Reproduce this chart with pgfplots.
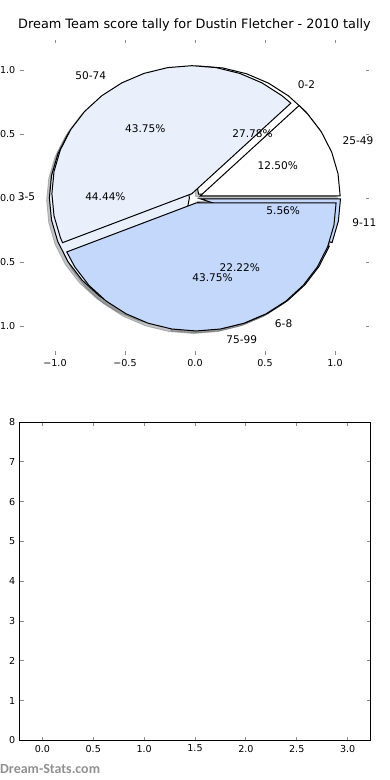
\documentclass[border=0pt]{standalone}
\usepackage{pgfplots}
\pgfplotsset{compat=1.18}
\usepackage{pgfplotstable}
\usepackage{fontspec}
\setmainfont{DejaVu Sans}
\newfontfamily\wmfont{Carlito}
\definecolor{cwhite}{RGB}{255,255,255}
\definecolor{clight}{RGB}{233,240,252}
\definecolor{cblue}{RGB}{196,216,252}
\definecolor{shw}{RGB}{80,82,86}
\definecolor{tickgray}{RGB}{140,140,140}
\definecolor{wmgray}{RGB}{145,145,145}

% Pie 1 (score 0-2: 5, 3-5: 8, 6-8: 4, 9-11: 1 -> 27.78, 44.44, 22.22, 5.56 %), explode 0.04
\pgfplotstableread{
x y
0.0257 0.0306
1.0257 0.0306
1.0105 0.2042
0.9654 0.3726
0.8917 0.5306
0.7917 0.6734
0.6685 0.7966
0.5257 0.8966
0.3677 0.9703
0.1993 1.0154
0.0257 1.0306
-0.1479 1.0154
}\pOneA
\pgfplotstableread{
x y
-0.0400 0.0000
-0.2136 0.9848
-0.3820 0.9397
-0.5400 0.8660
-0.6828 0.7660
-0.8060 0.6428
-0.9060 0.5000
-0.9797 0.3420
-1.0248 0.1736
-1.0400 0.0000
-1.0248 -0.1736
-0.9797 -0.3420
-0.9060 -0.5000
-0.8060 -0.6428
-0.6828 -0.7660
-0.5400 -0.8660
-0.3820 -0.9397
-0.2136 -0.9848
}\pOneB
\pgfplotstableread{
x y
0.0200 -0.0346
-0.1536 -1.0194
0.0200 -1.0346
0.1936 -1.0194
0.3620 -0.9743
0.5200 -0.9006
0.6628 -0.8006
0.7860 -0.6774
0.8860 -0.5346
0.9597 -0.3766
}\pOneC
\pgfplotstableread{
x y
0.0394 -0.0069
0.9791 -0.3489
1.0242 -0.1805
1.0394 -0.0069
}\pOneD
% Pie 2 (25-49: 2, 50-74: 7, 75-99: 7 -> 12.50, 43.75, 43.75 %), explode 0.04
\pgfplotstableread{
x y
0.0370 0.0153
1.0370 0.0153
1.0218 0.1889
0.9767 0.3573
0.9030 0.5153
0.8030 0.6581
0.7441 0.7224
}\pTwoA
\pgfplotstableread{
x y
-0.0222 0.0333
0.6849 0.7404
0.6206 0.7993
0.4778 0.8993
0.3198 0.9730
0.1514 1.0181
-0.0222 1.0333
-0.1958 1.0181
-0.3642 0.9730
-0.5222 0.8993
-0.6650 0.7993
-0.7882 0.6761
-0.8882 0.5333
-0.9619 0.3753
-1.0070 0.2069
-1.0222 0.0333
-1.0070 -0.1403
-0.9619 -0.3087
-0.9461 -0.3494
}\pTwoB
\pgfplotstableread{
x y
0.0078 -0.0392
-0.9161 -0.4219
-0.8582 -0.5392
-0.7582 -0.6820
-0.6350 -0.8052
-0.4922 -0.9052
-0.3342 -0.9789
-0.1658 -1.0240
0.0078 -1.0392
0.1814 -1.0240
0.3498 -0.9789
0.5078 -0.9052
0.6506 -0.8052
0.7738 -0.6820
0.8738 -0.5392
0.9475 -0.3812
0.9926 -0.2128
1.0078 -0.0392
}\pTwoC

\tikzset{
  wedge/.style={draw=black, line width=1bp, mark=none},
  shadow/.style={fill=shw, draw=shw, fill opacity=0.35, draw opacity=0.35, line width=0.8bp, mark=none},
  lbl/.style={font=\fontsize{10.6}{12}\selectfont, inner sep=0pt},
}
\pgfplotsset{
  common/.style={
    scale only axis,
    anchor=south west,
    tick style={draw=tickgray, line width=0.8bp},
    major tick length=3.5bp,
    tick label style={font=\fontsize{9.6}{11}\selectfont},
    xticklabel style={anchor=north, inner sep=0pt, yshift=-4.3bp},
    yticklabel style={anchor=east, inner sep=0pt, xshift=-4.5bp},
  },
}

\begin{document}
\begin{tikzpicture}
\useasboundingbox (0,0) rectangle (390bp,780bp);

\begin{axis}[
  common,
  at={(20bp,425bp)},
  width=349bp, height=315bp,
  xmin=-1.25, xmax=1.243, ymin=-1.227, ymax=1.234,
  clip=false,
  axis line style={draw=none},
  xtick={-1,-0.5,0,0.5,1}, xticklabels={−1.0,−0.5,0.0,0.5,1.0},
  ytick={-1,-0.5,0,0.5,1}, yticklabels={−1.0,−0.5,0.0,0.5,1.0},
  title={Dream Team score tally for Dustin Fletcher - 2010 tally},
  title style={at={(0.5,1)}, anchor=base, yshift=5.3bp, inner sep=0pt,
    font=\fontsize{12.9}{15}\selectfont},
]
% shadows
\addplot[shadow] table[x expr=\thisrow{x}-0.02, y expr=\thisrow{y}-0.02] {\pOneA} -- cycle;
\addplot[shadow] table[x expr=\thisrow{x}-0.02, y expr=\thisrow{y}-0.02] {\pOneB} -- cycle;
\addplot[shadow] table[x expr=\thisrow{x}-0.02, y expr=\thisrow{y}-0.02] {\pOneC} -- cycle;
\addplot[shadow] table[x expr=\thisrow{x}-0.02, y expr=\thisrow{y}-0.02] {\pOneD} -- cycle;
\addplot[shadow] table[x expr=\thisrow{x}-0.02, y expr=\thisrow{y}-0.02] {\pTwoA} -- cycle;
\addplot[shadow] table[x expr=\thisrow{x}-0.02, y expr=\thisrow{y}-0.02] {\pTwoB} -- cycle;
\addplot[shadow] table[x expr=\thisrow{x}-0.02, y expr=\thisrow{y}-0.02] {\pTwoC} -- cycle;
% pie 1
\addplot[wedge, fill=cwhite] table {\pOneA} -- cycle;
\addplot[wedge, fill=clight] table {\pOneB} -- cycle;
\addplot[wedge, fill=cblue] table {\pOneC} -- cycle;
\addplot[wedge, fill=cblue] table {\pOneD} -- cycle;
% pie 2
\addplot[wedge, fill=cwhite] table {\pTwoA} -- cycle;
\addplot[wedge, fill=clight] table {\pTwoB} -- cycle;
\addplot[wedge, fill=cblue] table {\pTwoC} -- cycle;
% labels pie 1
\node[lbl, anchor=base west, yshift=-0.276em] at (axis cs:0.7328,0.8733) {0-2};
\node[lbl, anchor=base east, yshift=-0.276em] at (axis cs:-1.14,0) {3-5};
\node[lbl, anchor=base west, yshift=-0.276em] at (axis cs:0.57,-0.9873) {6-8};
\node[lbl, anchor=base west, yshift=-0.276em] at (axis cs:1.1227,-0.1980) {9-11};
\node[lbl, anchor=base, yshift=-0.276em] at (axis cs:0.4114,0.4903) {27.78\%};
\node[lbl, anchor=base, yshift=-0.276em] at (axis cs:-0.64,0) {44.44\%};
\node[lbl, anchor=base, yshift=-0.276em] at (axis cs:0.32,-0.5543) {22.22\%};
\node[lbl, anchor=base, yshift=-0.276em] at (axis cs:0.6303,-0.1111) {5.56\%};
% labels pie 2
\node[lbl, anchor=base west, yshift=-0.276em] at (axis cs:1.0532,0.4363) {25-49};
\node[lbl, anchor=base east, yshift=-0.276em] at (axis cs:-0.6334,0.9479) {50-74};
\node[lbl, anchor=base west, yshift=-0.276em] at (axis cs:0.2224,-1.1181) {75-99};
\node[lbl, anchor=base, yshift=-0.276em] at (axis cs:0.5913,0.2449) {12.50\%};
\node[lbl, anchor=base, yshift=-0.276em] at (axis cs:-0.3556,0.5322) {43.75\%};
\node[lbl, anchor=base, yshift=-0.276em] at (axis cs:0.1249,-0.6277) {43.75\%};
\end{axis}

\begin{axis}[
  common,
  at={(20bp,39.5bp)},
  width=350bp, height=318.5bp,
  xmin=-0.22, xmax=3.22, ymin=0, ymax=8,
  axis line style={draw=black, line width=1bp},
  xtick={0,0.5,1,1.5,2,2.5,3}, xticklabels={0.0,0.5,1.0,1.5,2.0,2.5,3.0},
  ytick={0,1,2,3,4,5,6,7,8}, yticklabels={0,1,2,3,4,5,6,7,8},
]
\end{axis}

\node[anchor=base west, inner sep=0pt, text=wmgray, font=\wmfont\bfseries\fontsize{14}{16}\selectfont] at (0bp,6.5bp) {Dream-Stats.com};
\end{tikzpicture}
\end{document}
